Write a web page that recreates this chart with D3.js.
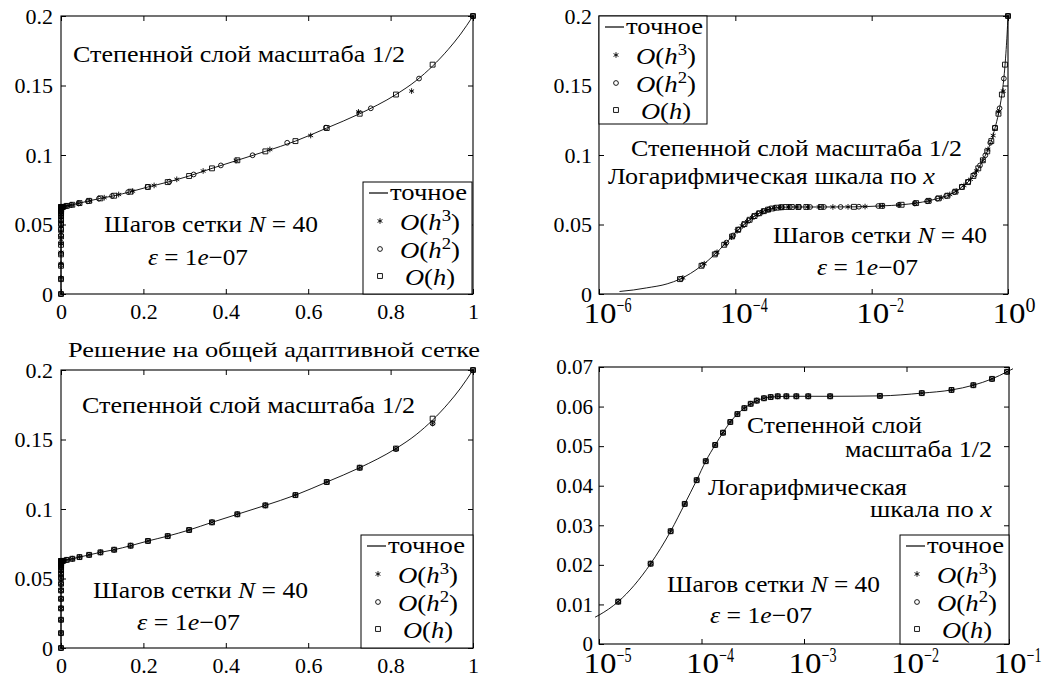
<!DOCTYPE html>
<html>
<head>
<meta charset="utf-8">
<script src="https://cdn.jsdelivr.net/npm/d3@7"></script>
<style>
body { margin:0; background:#fff; }
svg { display:block; }
</style>
</head>
<body>
<script>
// exact solution
var exactX = [0, 2e-6, 3.2e-6, 5e-6, 1e-5, 1.54e-5, 2.2e-5, 3.19e-5, 5e-5, 6.86e-5, 8.97e-5, 1.1e-4, 1.36e-4, 1.62e-4, 1.91e-4, 2.24e-4, 2.62e-4, 3.02e-4, 3.46e-4, 4.07e-4, 4.73e-4, 5.54e-4, 6.73e-4, 8.42e-4, 1.1e-3, 1.8e-3, 5.5e-3, 0.0141, 0.0275, 0.0449, 0.0683, 0.0957, 0.129, 0.169, 0.211, 0.259, 0.311, 0.3665, 0.428, 0.496, 0.569, 0.645, 0.725, 0.813, 0.862, 0.902, 0.94, 0.97, 1.0];
var exactY = [0, 0.0018, 0.0029, 0.0044, 0.0073, 0.0107, 0.0148, 0.0203, 0.0285, 0.0354, 0.0414, 0.0462, 0.0503, 0.0534, 0.0561, 0.0581, 0.0596, 0.0607, 0.0615, 0.0621, 0.0624, 0.0625, 0.0626, 0.0626, 0.0626, 0.0626, 0.0627, 0.0634, 0.0642, 0.0654, 0.0670, 0.0688, 0.0707, 0.0736, 0.0770, 0.0805, 0.0849, 0.0904, 0.0962, 0.1026, 0.1100, 0.1194, 0.1297, 0.1435, 0.1535, 0.1640, 0.1760, 0.1870, 0.2000];

// common adaptive mesh (N=40) and values of the three schemes on it
var meshX = [0, 1.54e-5, 3.19e-5, 5.0e-5, 6.86e-5, 8.97e-5, 1.10e-4, 1.36e-4, 1.62e-4, 1.91e-4, 2.24e-4, 2.62e-4, 3.02e-4, 3.46e-4, 4.07e-4, 4.73e-4, 5.54e-4, 6.73e-4, 8.42e-4, 1.10e-3, 1.80e-3, 5.5e-3, 0.0141, 0.0275, 0.0449, 0.0683, 0.0957, 0.129, 0.169, 0.211, 0.259, 0.311, 0.3665, 0.428, 0.496, 0.569, 0.645, 0.725, 0.813, 0.902, 1.0];
var ohY = [0, 0.0107, 0.0203, 0.0285, 0.0354, 0.0414, 0.0462, 0.0503, 0.0534, 0.0561, 0.0581, 0.0596, 0.0607, 0.0615, 0.0621, 0.0624, 0.0626, 0.0626, 0.0626, 0.0626, 0.0626, 0.0627, 0.0634, 0.0642, 0.0654, 0.0670, 0.0688, 0.0707, 0.0736, 0.0770, 0.0805, 0.0849, 0.0904, 0.0962, 0.1026, 0.1100, 0.1194, 0.1297, 0.1435, 0.1650, 0.2000];
var o3CommonY = [0, 0.0107, 0.0203, 0.0285, 0.0354, 0.0414, 0.0462, 0.0503, 0.0534, 0.0561, 0.0581, 0.0596, 0.0607, 0.0615, 0.0621, 0.0624, 0.0626, 0.0626, 0.0626, 0.0626, 0.0626, 0.0627, 0.0634, 0.0642, 0.0654, 0.0670, 0.0688, 0.0707, 0.0736, 0.0770, 0.0805, 0.0849, 0.0904, 0.0962, 0.1026, 0.1100, 0.1194, 0.1297, 0.1432, 0.1616, 0.2000];
var o2CommonY = [0, 0.0107, 0.0203, 0.0285, 0.0354, 0.0414, 0.0462, 0.0503, 0.0534, 0.0561, 0.0581, 0.0596, 0.0607, 0.0615, 0.0621, 0.0624, 0.0626, 0.0626, 0.0626, 0.0626, 0.0626, 0.0627, 0.0634, 0.0642, 0.0654, 0.0670, 0.0688, 0.0707, 0.0736, 0.0770, 0.0805, 0.0849, 0.0904, 0.0962, 0.1026, 0.1100, 0.1194, 0.1297, 0.1432, 0.1616, 0.2000];

// each scheme on its own adaptive mesh
var o3X = [0, 1.7e-5, 3.5e-5, 5.4e-5, 7.1e-5, 8.8e-5, 1.06e-4, 1.26e-4, 1.5e-4, 1.78e-4, 2.1e-4, 2.5e-4, 3.0e-4, 3.7e-4, 4.6e-4, 6.0e-4, 8.0e-4, 1.15e-3, 1.7e-3, 2.7e-3, 4.5e-3, 8.0e-3, 0.0145, 0.025, 0.043, 0.07, 0.105, 0.14, 0.174, 0.226, 0.281, 0.345, 0.425, 0.507, 0.606, 0.722, 0.851, 1.0];
var o3Y = [0, 0.0116, 0.0218, 0.0300, 0.0361, 0.0409, 0.0454, 0.0489, 0.0521, 0.0550, 0.0574, 0.0592, 0.0606, 0.0618, 0.0623, 0.0626, 0.0626, 0.0626, 0.0626, 0.0626, 0.0627, 0.0629, 0.0634, 0.0641, 0.0652, 0.0671, 0.0693, 0.0716, 0.0740, 0.0781, 0.0825, 0.0885, 0.0960, 0.1040, 0.1140, 0.1310, 0.1460, 0.2000];
var o2X = [0, 1.6e-5, 3.3e-5, 5.2e-5, 7.4e-5, 9.3e-5, 1.12e-4, 1.32e-4, 1.56e-4, 1.85e-4, 2.18e-4, 2.58e-4, 3.1e-4, 3.8e-4, 4.8e-4, 6.3e-4, 8.6e-4, 1.25e-3, 2.0e-3, 3.5e-3, 6.5e-3, 0.0125, 0.025, 0.043, 0.065, 0.092, 0.124, 0.163, 0.21, 0.263, 0.322, 0.388, 0.465, 0.549, 0.643, 0.752, 0.869, 1.0];
var o2Y = [0, 0.0110, 0.0209, 0.0292, 0.0370, 0.0421, 0.0465, 0.0498, 0.0528, 0.0556, 0.0578, 0.0595, 0.0609, 0.0619, 0.0624, 0.0626, 0.0626, 0.0626, 0.0626, 0.0626, 0.0628, 0.0633, 0.0641, 0.0652, 0.0667, 0.0686, 0.0705, 0.0733, 0.0770, 0.0808, 0.0860, 0.0925, 0.0998, 0.1088, 0.1197, 0.1336, 0.1550, 0.2000];

var linTicksX = [0, 0.2, 0.4, 0.6, 0.8, 1];
var ticksY02 = [0, 0.05, 0.1, 0.15, 0.2];
var ticksY007 = [0, 0.01, 0.02, 0.03, 0.04, 0.05, 0.06, 0.07];
var logTicksTop = [1e-6, 1e-4, 1e-2, 1];
var logTicksBottom = [1e-5, 1e-4, 1e-3, 1e-2, 1e-1];
var legendNames = ["точное", "O(h3)", "O(h2)", "O(h)"];

var FONT = "'Liberation Serif', serif";
var w = 1046, h = 679;
var svg = d3.select("body").append("svg")
    .attr("width", w)
    .attr("height", h)
    .style("font-family", FONT);

var symStar = d3.symbol(d3.symbolAsterisk, 22);
var symCircle = d3.symbol(d3.symbolCircle, 18);
var symSquare = d3.symbol(d3.symbolSquare, 24);

// text made of pieces: [string, italic, superscript]
function mathText(g, x, y, parts, len, size) {
  var t = g.append("text")
    .attr("x", x).attr("y", y)
    .style("font-family", FONT)
    .style("font-size", size + "px")
    .attr("fill", "#000")
    .attr("text-anchor", "start");
  if (len) t.attr("textLength", len).attr("lengthAdjust", "spacingAndGlyphs");
  var up = false;
  parts.forEach(function(p) {
    var s = t.append("tspan").text(p[0]);
    if (p[1]) s.style("font-style", "italic");
    if (p[2]) { s.attr("dy", -9).style("font-size", (size * 0.7) + "px"); up = true; }
    else if (up) { s.attr("dy", 9); up = false; }
  });
  return t;
}

function legendLabel(name) {
  if (name == "O(h3)") return [["O",1],["(",0],["h",1],["3",0,1],[")",0]];
  if (name == "O(h2)") return [["O",1],["(",0],["h",1],["2",0,1],[")",0]];
  if (name == "O(h)") return [["O",1],["(",0],["h",1],[")",0]];
  return [[name,0]];
}

var stepText = [["Шагов сетки ",0],["N",1],[" = 40",0]];
var epsText = [["ε",1],[" = 1",0],["e",1],["−07",0]];

function drawPanel(o) {
  var g = svg.append("g").attr("transform", "translate(" + o.left + "," + o.top + ")");
  var x = (o.log ? d3.scaleLog() : d3.scaleLinear()).domain(o.xDomain).range([0, o.w]);
  var y = d3.scaleLinear().domain(o.yDomain).range([o.h, 0]);

  g.append("clipPath").attr("id", "clip" + o.id)
    .append("rect").attr("x", -4).attr("y", -4).attr("width", o.w + 8).attr("height", o.h + 8);

  // bottom axis
  var ax = g.append("g").attr("transform", "translate(0," + o.h + ")")
    .call(d3.axisBottom(x).tickValues(o.xTicks).tickSizeInner(-5).tickSizeOuter(0)
      .tickPadding(o.log ? 0 : 9)
      .tickFormat(o.log ? function() { return ""; } : d3.format("~g")));
  if (o.log) {
    ax.selectAll(".tick").each(function(d) {
      var t = d3.select(this);
      t.select("text").remove();
      var e = Math.round(Math.log10(d));
      t.append("text").attr("x", -16).attr("y", o.logBase)
        .style("font-family", FONT).style("font-size", "29px")
        .attr("text-anchor", "start").attr("fill", "#000")
        .attr("textLength", 33).attr("lengthAdjust", "spacingAndGlyphs").text("10");
      var es = e < 0 ? "−" + (-e) : String(e);
      t.append("text").attr("x", 17).attr("y", o.logBase - 11)
        .style("font-family", FONT).style("font-size", "20px")
        .attr("text-anchor", "start").attr("fill", "#000")
        .attr("textLength", e < 0 ? 15 : 10).attr("lengthAdjust", "spacingAndGlyphs").text(es);
    });
  }
  // left axis
  var ay = g.append("g")
    .call(d3.axisLeft(y).tickValues(o.yTicks).tickSizeInner(-5).tickSizeOuter(0)
      .tickPadding(o.yPad).tickFormat(d3.format("~g")));
  // top and right ticks
  var at = g.append("g")
    .call(d3.axisTop(x).tickValues(o.xTicks).tickSizeInner(-5).tickSizeOuter(0).tickFormat(""));
  var ar = g.append("g").attr("transform", "translate(" + o.w + ",0)")
    .call(d3.axisRight(y).tickValues(o.yTicks).tickSizeInner(-5).tickSizeOuter(0).tickFormat(""));
  [ax, ay, at, ar].forEach(function(a) {
    a.attr("font-family", null).attr("font-size", null);
    a.select(".domain").remove();
    a.selectAll(".tick line").attr("stroke", "#000").attr("stroke-width", 1);
  });
  [ax, ay].forEach(function(a) {
    a.selectAll(".tick text").filter(function() { return !this.hasAttribute("textLength"); })
      .style("font-family", FONT).style("font-size", o.fs + "px").attr("fill", "#000");
  });

  g.append("rect").attr("width", o.w).attr("height", o.h)
    .attr("fill", "none").attr("stroke", "#000").attr("stroke-width", 1.1);

  var inX = function(d) { return !o.log || (d[0] >= o.xDomain[0] * 0.999 && d[0] <= o.xDomain[1] * 1.001); };

  var line = d3.line()
    .x(function(d) { return x(d[0]); })
    .y(function(d) { return y(d[1]); })
    .curve(d3.curveMonotoneX);
  var pts = d3.zip(exactX, exactY).filter(function(d) { return !o.log || d[0] > 0; });
  g.append("path")
    .attr("clip-path", "url(#clip" + o.id + ")")
    .attr("d", line(pts))
    .attr("fill", "none").attr("stroke", "#000").attr("stroke-width", 0.9);

  var marks = [[o.o3X, o.o3Y, symStar], [o.o2X, o.o2Y, symCircle], [o.ohX, o.ohY, symSquare]];
  marks.forEach(function(m) {
    g.append("g").selectAll("path")
      .data(d3.zip(m[0], m[1]).filter(inX))
      .join("path")
      .attr("transform", function(d) { return "translate(" + x(d[0]) + "," + y(d[1]) + ")"; })
      .attr("d", m[2])
      .attr("fill", "none").attr("stroke", "#000").attr("stroke-width", 0.9);
  });

  // annotations
  o.texts.forEach(function(t) { mathText(g, t[0], t[1], t[2], t[3], t[4] || 23); });

  // legend
  var L = o.legend;
  var lg = g.append("g").attr("transform", "translate(" + L[0] + "," + L[1] + ")");
  lg.append("rect").attr("width", L[2]).attr("height", L[3])
    .attr("fill", "#fff").attr("stroke", "#000").attr("stroke-width", 1);
  var rows = [11, 39, 67, 94];
  lg.append("line").attr("x1", 6).attr("x2", 25).attr("y1", rows[0]).attr("y2", rows[0])
    .attr("stroke", "#000").attr("stroke-width", 1.2);
  mathText(lg, 27, rows[0] + 7, legendLabel(legendNames[0]), 77, 23);
  var syms = [symStar, symCircle, symSquare];
  for (var i = 1; i < 4; i++) {
    lg.append("path").attr("transform", "translate(17," + rows[i] + ")").attr("d", syms[i - 1])
      .attr("fill", "none").attr("stroke", "#000").attr("stroke-width", 0.9);
    var wl = i == 3 ? 50 : 60;
    mathText(lg, 67 - wl / 2, rows[i] + 9, legendLabel(legendNames[i]), wl, 24);
  }
}

var title = "Степенной слой масштаба 1/2";

drawPanel({
  id: 1, left: 61, top: 16, w: 412, h: 278, log: false, fs: 22, yPad: 8,
  xDomain: [0, 1], yDomain: [0, 0.2], xTicks: linTicksX, yTicks: ticksY02,
  o3X: o3X, o3Y: o3Y, o2X: o2X, o2Y: o2Y, ohX: meshX, ohY: ohY,
  legend: [302, 166, 109, 112],
  texts: [[12, 46, [[title,0]], 332], [43, 216, stepText, 214], [87, 249, epsText, 100]]
});

drawPanel({
  id: 2, left: 599, top: 16, w: 409, h: 278, log: true, fs: 22, yPad: 7, logBase: 29,
  xDomain: [1e-6, 1], yDomain: [0, 0.2], xTicks: logTicksTop, yTicks: ticksY02,
  o3X: o3X, o3Y: o3Y, o2X: o2X, o2Y: o2Y, ohX: meshX, ohY: ohY,
  legend: [0, 0, 108, 108],
  texts: [[32, 140, [[title,0]], 331], [9, 168, [["Логарифмическая шкала по ",0],["x",1]], 327],
          [174, 227, stepText, 214], [218, 259, epsText, 101]]
});

drawPanel({
  id: 3, left: 61, top: 370, w: 412, h: 278, log: false, fs: 22, yPad: 8,
  xDomain: [0, 1], yDomain: [0, 0.2], xTicks: linTicksX, yTicks: ticksY02,
  o3X: meshX, o3Y: o3CommonY, o2X: meshX, o2Y: o2CommonY, ohX: meshX, ohY: ohY,
  legend: [300, 165, 112, 113],
  texts: [[7, -13, [["Решение на общей адаптивной сетке",0]], 412, 21],
          [21, 43, [[title,0]], 333], [32, 228, stepText, 215], [76, 260, epsText, 103]]
});

drawPanel({
  id: 4, left: 599, top: 367, w: 410, h: 277, log: true, fs: 21, yPad: 6, logBase: 29,
  xDomain: [1e-5, 1e-1], yDomain: [0, 0.07], xTicks: logTicksBottom, yTicks: ticksY007,
  o3X: meshX, o3Y: o3CommonY, o2X: meshX, o2Y: o2CommonY, ohX: meshX, ohY: ohY,
  legend: [301, 168, 109, 109],
  texts: [[148, 66, [["Степенной слой",0]], 175], [246, 90, [["масштаба 1/2",0]], 147],
          [109, 128, [["Логарифмическая",0]], 199], [271, 150, [["шкала по ",0],["x",1]], 122],
          [68, 225, stepText, 213], [111, 256, epsText, 102]]
});
</script>
</body>
</html>
